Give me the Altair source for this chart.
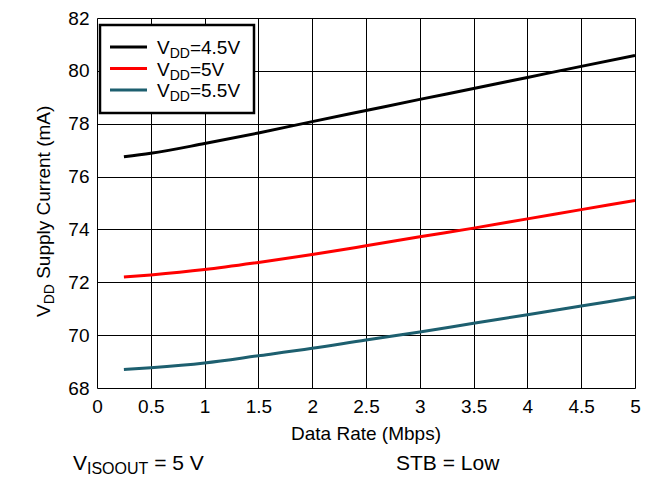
import altair as alt
import pandas as pd

# ---- data ----
rate = [0.25, 0.5, 1, 1.5, 2, 2.5, 3, 3.5, 4, 4.5, 5]
i_vdd45 = [76.75, 76.88, 77.25, 77.65, 78.08, 78.5, 78.92, 79.33, 79.75, 80.17, 80.58]
i_vdd50 = [72.2, 72.28, 72.48, 72.75, 73.05, 73.38, 73.72, 74.05, 74.4, 74.75, 75.1]
i_vdd55 = [68.7, 68.77, 68.95, 69.22, 69.5, 69.82, 70.12, 70.45, 70.77, 71.1, 71.43]
series = ["VDD=4.5V", "VDD=5V", "VDD=5.5V"]
legend_values = ["4.5V", "5V", "5.5V"]
colors = ["#000000", "#FF0000", "#1D5F6F"]
x_ticks = [0, 0.5, 1, 1.5, 2, 2.5, 3, 3.5, 4, 4.5, 5]
y_ticks = [68, 70, 72, 74, 76, 78, 80, 82]

W, H = 538, 370
FONT = "Liberation Sans, Arial, Helvetica, sans-serif"
FS, SUB = 19, 14

rows = []
for s, vals in zip(series, [i_vdd45, i_vdd50, i_vdd55]):
    for x, y in zip(rate, vals):
        rows.append({"rate": x, "current": y, "series": s})
df = pd.DataFrame(rows)

# Helvetica/Arial advance widths (per 1000 em)
AW = {"V": 667, "D": 722, "=": 584, "4": 556, ".": 278, "5": 556, " ": 278, "S": 667,
      "u": 556, "p": 556, "l": 222, "y": 500, "C": 722, "r": 333, "e": 556, "n": 556,
      "t": 278, "(": 333, ")": 333, "m": 833, "A": 667, "I": 278, "O": 778, "U": 722,
      "T": 611, "B": 667, "L": 556, "o": 556, "w": 722}


def tw(s, fs):
    return sum(AW.get(c, 556) for c in s) * fs / 1000.0


def pieces(parts, x0, y0, angle=0, fs_main=FS, fs_sub=SUB, sub_off=4):
    """parts: list of (text, is_sub). returns rows with px, py, fs, ang"""
    out = []
    pos = 0.0
    for txt, sub in parts:
        fs = fs_sub if sub else fs_main
        off = sub_off if sub else 0
        lead = len(txt) - len(txt.lstrip(" "))
        pos += tw(" " * lead, fs)
        body = txt.lstrip(" ")
        if angle == 0:
            out.append({"px": x0 + pos, "py": y0 + off, "t": body, "fs": fs, "ang": 0})
        else:
            out.append({"px": x0 + off, "py": y0 - pos, "t": body, "fs": fs, "ang": 270})
        pos += tw(body, fs)
    return out


txt_rows = []
# legend entries
leg_y = [29, 50.5, 72]
for v, ly in zip(legend_values, leg_y):
    txt_rows += pieces([("V", False), ("DD", True), ("=" + v, False)], 60, ly + 7)
# y title (rotated)
txt_rows += pieces([("V", False), ("DD", True), (" Supply Current (mA)", False)], -47, 299, angle=270)
# bottom notes
txt_rows += pieces([("V", False), ("ISOOUT", True), (" = 5 V", False)], -24, 452,
                   fs_main=21, fs_sub=16, sub_off=4)
txt_rows += pieces([("STB = Low", False)], 299, 452, fs_main=21)
txt_df = pd.DataFrame(txt_rows)

base = alt.Chart(df)

lines = base.mark_line(strokeWidth=3, interpolate="monotone", clip=True).encode(
    x=alt.X("rate:Q", scale=alt.Scale(domain=[0, 5], nice=False),
            axis=alt.Axis(values=x_ticks, title=None, labelExpr="datum.value",
                          grid=True, ticks=False, domain=False,
                          labelFontSize=FS, labelFont=FONT, labelColor="#000",
                          labelPadding=9, gridColor="#000", gridWidth=1,
                          labelFlush=False)),
    y=alt.Y("current:Q", scale=alt.Scale(domain=[68, 82], nice=False),
            axis=alt.Axis(values=y_ticks, title=None, grid=True, ticks=False, domain=False,
                          labelFontSize=FS, labelFont=FONT, labelColor="#000",
                          labelPadding=8, gridColor="#000", gridWidth=1)),
    color=alt.Color("series:N", scale=alt.Scale(domain=series, range=colors), legend=None),
)

legend_box = alt.Chart(pd.DataFrame({"x": [3], "x2": [157], "y": [7], "y2": [95]})).mark_rect(
    fill="white", stroke="black", strokeWidth=2.5
).encode(
    x=alt.X("x:Q", scale=None), x2="x2:Q", y=alt.Y("y:Q", scale=None), y2="y2:Q"
)

leg_lines = alt.Chart(pd.DataFrame({"x": [13] * 3, "x2": [50] * 3, "y": leg_y, "s": series})).mark_rule(
    strokeWidth=3
).encode(
    x=alt.X("x:Q", scale=None), x2="x2:Q", y=alt.Y("y:Q", scale=None),
    color=alt.Color("s:N", scale=alt.Scale(domain=series, range=colors), legend=None),
)

texts = alt.Chart(txt_df).mark_text(align="left", baseline="alphabetic", font=FONT, color="black").encode(
    x=alt.X("px:Q", scale=None), y=alt.Y("py:Q", scale=None),
    text="t:N", size=alt.Size("fs:Q", scale=None), angle=alt.Angle("ang:Q", scale=None),
)

xtitle = alt.Chart(pd.DataFrame({"px": [W / 2], "py": [422], "t": ["Data Rate (Mbps)"]})).mark_text(
    align="center", baseline="alphabetic", font=FONT, fontSize=FS, color="black"
).encode(x=alt.X("px:Q", scale=None), y=alt.Y("py:Q", scale=None), text="t:N")

chart = alt.layer(lines, legend_box, leg_lines, texts, xtitle).properties(
    width=W, height=H,
    autosize=alt.AutoSizeParams(type="none"),
    padding={"left": 89, "top": 10, "right": 15, "bottom": 90},
).configure_view(stroke="black", strokeWidth=3).configure(background="white")

chart.save("out.html", embed_options={"renderer": "svg", "actions": False})
